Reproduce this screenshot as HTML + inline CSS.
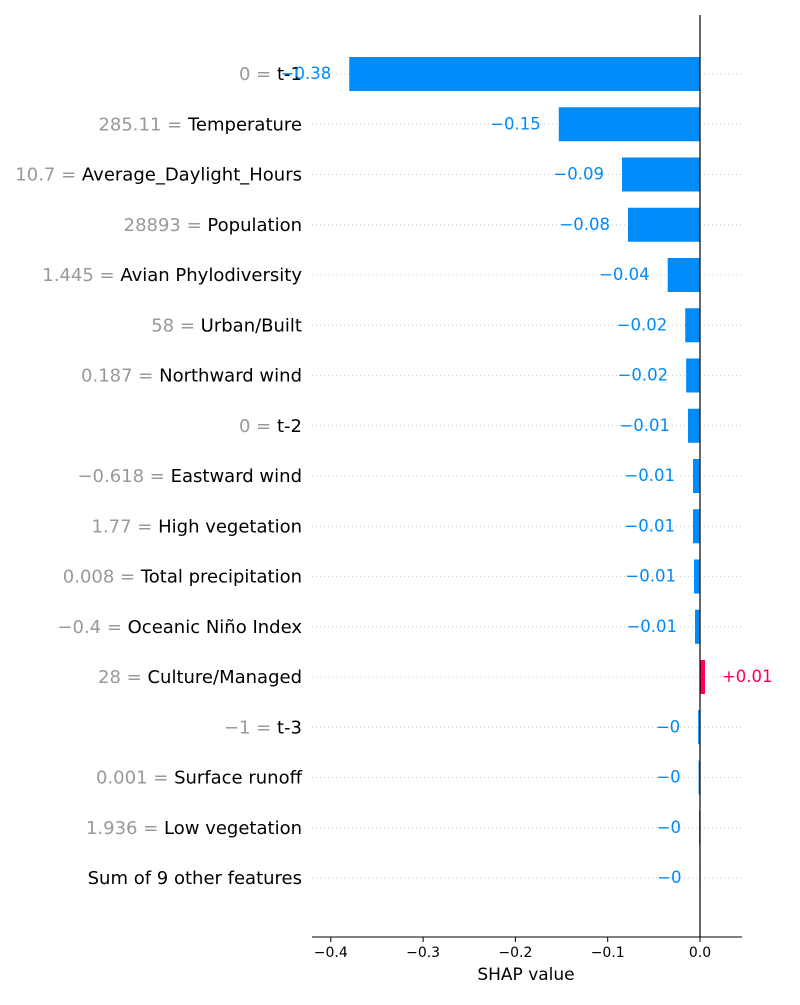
<!DOCTYPE html>
<html><head><meta charset="utf-8"><style>
body{margin:0;background:#fff}
svg{font-family:"DejaVu Sans","Liberation Sans",sans-serif}
</style></head><body>
<svg id="chart" width="800" height="1000"></svg>
<script>
const featureValues=["0","285.11","10.7","28893","1.445","58","0.187","0","\u22120.618","1.77","0.008","\u22120.4","28","\u22121","0.001","1.936",""];
const featureNames=["t-1","Temperature","Average_Daylight_Hours","Population","Avian Phylodiversity","Urban/Built","Northward wind","t-2","Eastward wind","High vegetation","Total precipitation","Oceanic Ni\u00f1o Index","Culture/Managed","t-3","Surface runoff","Low vegetation","Sum of 9 other features"];
const shapValues=[-0.380,-0.153,-0.0845,-0.078,-0.035,-0.016,-0.015,-0.013,-0.0076,-0.0076,-0.0065,-0.0054,0.0054,-0.002,-0.0015,-0.001,-0.0005];
const valueLabels=["\u22120.38","\u22120.15","\u22120.09","\u22120.08","\u22120.04","\u22120.02","\u22120.02","\u22120.01","\u22120.01","\u22120.01","\u22120.01","\u22120.01","+0.01","\u22120","\u22120","\u22120","\u22120"];
const xTicks=[-0.4,-0.3,-0.2,-0.1,0.0];
const xTickLabels=["\u22120.4","\u22120.3","\u22120.2","\u22120.1","0.0"];
const NS="http://www.w3.org/2000/svg";
const svg=document.getElementById('chart');
const x=v=>700+v*923;
const y=i=>74+i*50.25;
function mk(t,a,p){const e=document.createElementNS(NS,t);for(const k in a)e.setAttribute(k,a[k]);(p||svg).appendChild(e);return e;}
featureNames.forEach((n,i)=>{
  const g=mk('line',{x1:312,x2:742,y1:y(i),y2:y(i),stroke:'#ccc','stroke-width':1,'stroke-dasharray':'1,3'});
  
  
  const v=shapValues[i],pos=v>0;
  const x0=Math.min(x(0),x(v)),w=Math.abs(x(v)-x(0));
  const b=mk('rect',{x:x0,y:y(i)-17,width:Math.max(w,1),height:34,fill:pos?'#ff0051':'#008bfb'});
  
  
  const lab=mk('text',{x:302,y:y(i)+6,'text-anchor':'end','font-size':18});
  
  
  if(featureValues[i]){const s=mk('tspan',{fill:'#999'},lab);s.textContent=featureValues[i]+' = ';}
  const s2=mk('tspan',{fill:'#000'},lab);s2.textContent=n;
  const vt=mk('text',{x:pos?x(v)+17:x(v)-18,y:y(i)+5,'text-anchor':pos?'start':'end','font-size':16.5,fill:pos?'#ff0051':'#008bfb'});
  
  
  vt.textContent=valueLabels[i];
});
const zl=mk('line',{x1:700,x2:700,y1:15,y2:937,stroke:'#000','stroke-width':1.2});


const ax=mk('line',{x1:312,x2:742,y1:937,y2:937,stroke:'#000','stroke-width':1});


xTicks.forEach((t,i)=>{
  const tk=mk('line',{x1:x(t),x2:x(t),y1:937,y2:942,stroke:'#000'});
  
  
  const tl=mk('text',{x:x(t),y:957,'text-anchor':'middle','font-size':14});
  
  
  tl.textContent=xTickLabels[i];
});
const at=mk('text',{x:526,y:980,'text-anchor':'middle','font-size':17});


at.textContent='SHAP value';
</script>
</body></html>
